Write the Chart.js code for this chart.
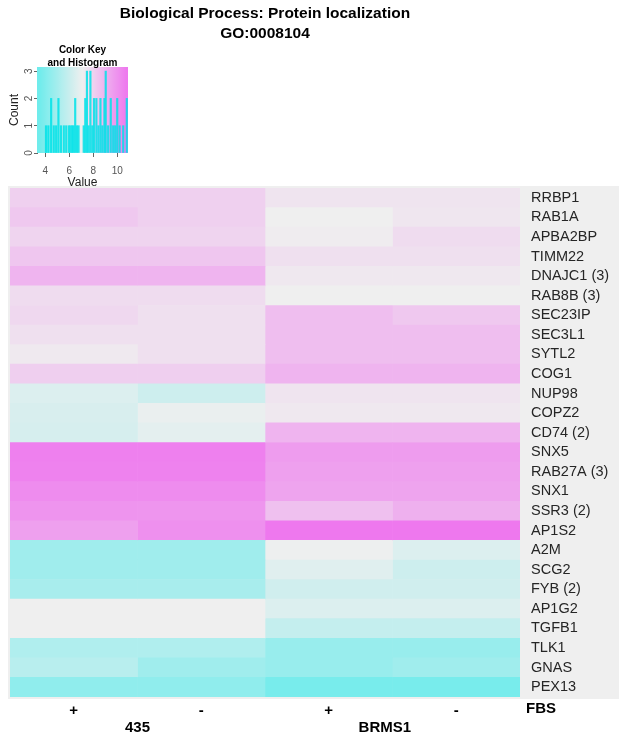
<!DOCTYPE html>
<html>
<head>
<meta charset="utf-8">
<script src="https://cdn.jsdelivr.net/npm/chart.js@4.4.1/dist/chart.umd.min.js"></script>
<style>
  body { margin: 0; background: #fff; }
  #wrap { position: relative; width: 626px; height: 741px; }
  #heatmap { position: absolute; left: 0; top: 0; }
  #key { position: absolute; left: 0; top: 40px; }
</style>
</head>
<body>
<div id="wrap">
  <canvas id="heatmap" width="626" height="741"></canvas>
  <canvas id="key" width="140" height="150"></canvas>
</div>
<script>
// Données du heatmap
const genes = ['RRBP1', 'RAB1A', 'APBA2BP', 'TIMM22', 'DNAJC1 (3)', 'RAB8B (3)', 'SEC23IP', 'SEC3L1',
  'SYTL2', 'COG1', 'NUP98', 'COPZ2', 'CD74 (2)', 'SNX5', 'RAB27A (3)', 'SNX1', 'SSR3 (2)', 'AP1S2',
  'A2M', 'SCG2', 'FYB (2)', 'AP1G2', 'TGFB1', 'TLK1', 'GNAS', 'PEX13'];
const colSigns = ['+', '-', '+', '-'];
const groups = ['435', 'BRMS1'];

const v435Plus   = [8.06, 8.31, 7.94, 8.37, 8.93, 7.69, 7.82, 7.57, 7.30, 8.10, 6.56, 6.45, 6.39,
  10.55, 10.50, 10.18, 9.93, 9.56, 4.86, 4.86, 5.09, 7.10, 7.10, 5.31, 5.54, 4.40];
const v435Minus  = [8.06, 8.06, 7.94, 8.37, 8.93, 7.69, 7.57, 7.57, 7.57, 8.10, 6.14, 6.95, 6.79,
  10.55, 10.50, 10.18, 9.90, 10.05, 4.86, 4.86, 5.09, 7.10, 7.10, 5.31, 4.86, 4.40];
const vBrmsPlus  = [7.44, 7.10, 7.20, 7.57, 7.32, 7.10, 8.62, 8.62, 8.62, 8.93, 7.44, 7.32, 8.93,
  9.68, 9.56, 9.43, 8.56, 10.80, 7.05, 6.67, 6.22, 6.56, 5.88, 4.63, 4.63, 3.73];
const vBrmsMinus = [7.44, 7.38, 7.69, 7.57, 7.32, 7.10, 8.31, 8.62, 8.62, 8.93, 7.44, 7.32, 8.93,
  9.68, 9.56, 9.43, 9.06, 10.80, 6.56, 6.14, 6.22, 6.56, 5.88, 4.63, 4.86, 3.73];

// Histogramme de la clé de couleur
const histValues = [4.05, 4.25, 4.48, 4.70, 4.90, 5.09, 5.30, 5.54, 5.74, 5.96, 6.10, 6.24, 6.35, 6.49,
  6.63, 6.77, 7.20, 7.33, 7.47, 7.61, 7.76, 7.92, 8.06, 8.26, 8.43, 8.60, 8.76, 8.93, 9.04, 9.24,
  9.46, 9.66, 9.83, 10.00, 10.20, 10.50, 10.80];
const histCounts = [1, 1, 2, 1, 1, 2, 1, 1, 1, 1, 1, 1, 1, 2,
  1, 1, 1, 2, 3, 1, 3, 1, 2, 2, 1, 2, 1, 2, 3, 1,
  2, 1, 1, 2, 1, 1, 2];
const valueTicks = [4, 6, 8, 10];
const countTicks = [0, 0.5, 1, 1.5, 2, 2.5, 3];

const FONT = "'Liberation Sans', Arial, sans-serif";

// Palette cyan -> blanc -> magenta
const LOW = [112, 236, 236], MID = [239, 239, 239], HIGH = [238, 120, 238];
function cellColor(v) {
    let a, b, t;
    if (v < 7.1) { a = LOW; b = MID; t = (v - 3.5) / 3.6; }
    else { a = MID; b = HIGH; t = (v - 7.1) / 3.7; }
    t = Math.max(0, Math.min(1, t));
    const c = a.map((x, i) => Math.round(x + (b[i] - x) * t));
    return 'rgb(' + c.join(',') + ')';
}

// Fond gris derrière le heatmap et les étiquettes
const panelBackground = {
    id: 'panelBackground',
    beforeDraw(chart) {
        const { ctx, chartArea: a } = chart;
        ctx.save();
        ctx.fillStyle = '#efefef';
        ctx.fillRect(a.left - 2, a.top - 2, a.right + 99 - (a.left - 2), a.bottom - a.top + 4);
        ctx.restore();
    }
};

// Titre et étiquettes de groupes
const heatmapText = {
    id: 'heatmapText',
    afterDraw(chart) {
        const { ctx, chartArea: a } = chart;
        const x = chart.scales.x;
        ctx.save();
        ctx.fillStyle = '#000';
        ctx.textAlign = 'center';
        ctx.textBaseline = 'middle';
        ctx.font = 'bold 15.5px ' + FONT;
        const cx = (a.left + a.right) / 2;
        ctx.fillText('Biological Process: Protein localization', cx, 14);
        ctx.fillText('GO:0008104', cx, 34);
        ctx.font = 'bold 15px ' + FONT;
        ctx.fillText(groups[0], x.getPixelForValue(1), 728);
        ctx.fillText(groups[1], x.getPixelForValue(2.94), 728);
        ctx.textAlign = 'left';
        ctx.fillText('FBS', a.right + 6, 709);
        ctx.restore();
    }
};

const columns = [v435Plus, v435Minus, vBrmsPlus, vBrmsMinus];
const datasets = columns.map((vals, c) => ({
    data: vals.map(() => [c, c + 1]),
    backgroundColor: vals.map(cellColor),
    borderWidth: 0,
    barPercentage: 1,
    categoryPercentage: 1,
    grouped: false
}));

new Chart(document.getElementById('heatmap'), {
    type: 'bar',
    data: { labels: genes, datasets: datasets },
    options: {
        indexAxis: 'y',
        responsive: false,
        animation: false,
        layout: { padding: { left: 10, top: 188, right: 0, bottom: 0 } },
        plugins: { legend: { display: false }, tooltip: { enabled: false } },
        scales: {
            x: {
                type: 'linear', min: 0, max: 4,
                afterBuildTicks: s => { s.ticks = [0.5, 1.5, 2.5, 3.5].map(v => ({ value: v })); },
                afterFit: s => { s.height = 44; },
                grid: { display: false },
                border: { display: false },
                ticks: {
                    callback: (v, i) => colSigns[i],
                    font: { family: FONT, size: 15, weight: 'bold' },
                    color: '#000', padding: -3, maxRotation: 0, autoSkip: false
                }
            },
            y: {
                position: 'right',
                afterFit: s => { s.width = 106; },
                grid: { display: false },
                border: { display: false },
                ticks: { font: { family: FONT, size: 14.5 }, color: '#262626', padding: 3, autoSkip: false }
            }
        }
    },
    plugins: [panelBackground, heatmapText]
});

// Dégradé de la clé de couleur
const keyGradient = {
    id: 'keyGradient',
    beforeDatasetsDraw(chart) {
        const { ctx, chartArea: a } = chart;
        const x = chart.scales.x;
        const g = ctx.createLinearGradient(a.left, 0, a.right, 0);
        for (let v = x.min; v <= x.max + 1e-9; v += 0.2) {
            g.addColorStop((x.getPixelForValue(v) - a.left) / (a.right - a.left), cellColor(v));
        }
        ctx.save();
        ctx.fillStyle = g;
        ctx.fillRect(a.left, a.top, a.right - a.left, a.bottom - a.top);
        ctx.restore();
    }
};

const keyText = {
    id: 'keyText',
    afterDraw(chart) {
        const { ctx, chartArea: a } = chart;
        const y = chart.scales.y;
        ctx.save();
        ctx.fillStyle = '#000';
        ctx.textAlign = 'center';
        ctx.textBaseline = 'middle';
        ctx.font = 'bold 10px ' + FONT;
        const cx = (a.left + a.right) / 2;
        ctx.fillText('Color Key', cx, 10);
        ctx.fillText('and Histogram', cx, 23);
        // étiquettes verticales de l'axe Count
        ctx.font = '10px ' + FONT;
        ctx.fillStyle = '#555';
        [0, 1, 2, 3].forEach(v => {
            ctx.save();
            ctx.translate(a.left - 8, y.getPixelForValue(v));
            ctx.rotate(-Math.PI / 2);
            ctx.fillText(String(v), 0, 0);
            ctx.restore();
        });
        ctx.restore();
    }
};

new Chart(document.getElementById('key'), {
    type: 'bar',
    data: {
        datasets: [{
            data: histValues.map((v, i) => ({ x: v, y: histCounts[i] })),
            backgroundColor: 'rgba(0, 226, 232, 0.85)',
            barThickness: 1.5,
            borderWidth: 0
        }]
    },
    options: {
        responsive: false,
        animation: false,
        layout: { padding: { left: 0, top: 27, right: 12, bottom: 0 } },
        plugins: { legend: { display: false }, tooltip: { enabled: false } },
        scales: {
            x: {
                type: 'linear', min: 3.3, max: 10.9, offset: false,
                afterBuildTicks: s => { s.ticks = valueTicks.map(v => ({ value: v })); },
                afterFit: s => { s.height = 37; },
                grid: { drawOnChartArea: false, tickLength: 4, color: '#666', offset: false },
                border: { display: false },
                ticks: { font: { family: FONT, size: 10 }, color: '#555', padding: 8, maxRotation: 0 },
                title: { display: true, text: 'Value', font: { family: FONT, size: 12 }, color: '#222', padding: 0 }
            },
            y: {
                min: 0, max: 3.15,
                afterBuildTicks: s => { s.ticks = countTicks.map(v => ({ value: v })); },
                afterFit: s => { s.width = 37; },
                grid: { drawOnChartArea: false, tickLength: 3, color: '#666' },
                border: { display: true, color: '#666' },
                ticks: { callback: () => '', font: { family: FONT, size: 10 }, padding: 8 },
                title: { display: true, text: 'Count', font: { family: FONT, size: 12 }, color: '#222', padding: { top: 7, bottom: 0 } }
            }
        }
    },
    plugins: [keyGradient, keyText]
});
</script>
</body>
</html>
